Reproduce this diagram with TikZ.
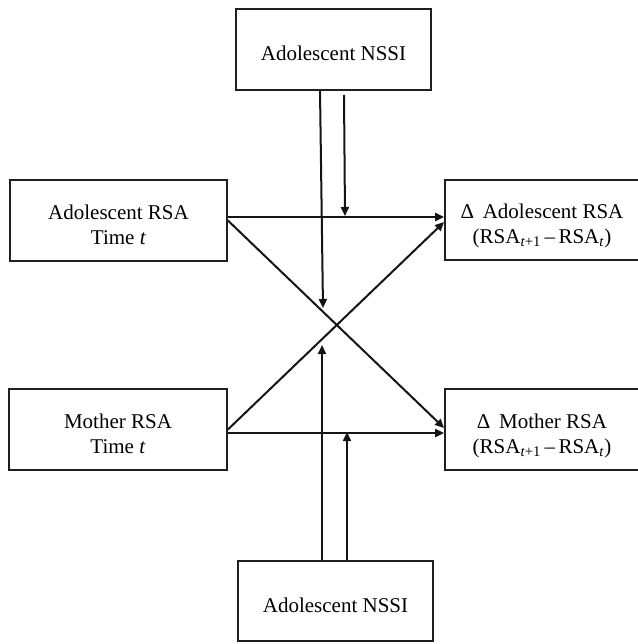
\documentclass[tikz,border=0pt]{standalone}
\usepackage{fontspec}
\setmainfont{Liberation Serif}
\usetikzlibrary{arrows.meta}
\newcommand\boxtext[1]{\raisebox{-6pt}[\height][\depth]{\begin{tabular}{@{}c@{}}#1\end{tabular}}}
\begin{document}
\begin{tikzpicture}[x=1pt,y=-1pt,
  box/.style={draw=black!88,line width=1.8pt,inner sep=0pt,align=center,
    font=\fontsize{21}{25}\selectfont},
  conn/.style={line width=2pt,black!92,-{Triangle[length=9pt,width=8pt]}}]
\useasboundingbox (0,0) rectangle (637,644);
\node[box,minimum width=195pt,minimum height=81pt] (top) at (333.5,49.5) {\boxtext{Adolescent NSSI}};
\node[box,minimum width=195pt,minimum height=80pt] (bot) at (335.5,601) {\boxtext{Adolescent NSSI}};
\node[box,minimum width=217pt,minimum height=81pt] (al) at (118.5,220.5) {\boxtext{Adolescent RSA\\Time \textit{t}}};
\node[box,minimum width=218pt,minimum height=81pt] (ml) at (118,429.5) {\boxtext{Mother RSA\\Time \textit{t}}};
\node[box,minimum width=194pt,minimum height=80pt] (ar) at (542,220) {\boxtext{Δ\, Adolescent RSA\\(RSA\textsubscript{\textit{t}+1}\,–\,RSA\textsubscript{\textit{t}})}};
\node[box,minimum width=194pt,minimum height=81pt] (mr) at (542,429.5) {\boxtext{Δ\, Mother RSA\\(RSA\textsubscript{\textit{t}+1}\,–\,RSA\textsubscript{\textit{t}})}};
% free ends
\coordinate (t1end) at (323,308);
\coordinate (t2start) at (344,95);
\coordinate (t2end) at (345,216);
\coordinate (b1end) at (322,345);
\coordinate (b2end) at (347,432);
% main paths
\draw[conn] ([yshift=3.5pt]al.east) -- ([yshift=3pt]ar.west);
\draw[conn] (al.east) -- ([yshift=1.5pt]mr.west);
\draw[conn] (ml.east) -- ([yshift=-2pt]ar.west);
\draw[conn] ([yshift=-3.5pt]ml.east) -- ([yshift=-3.5pt]mr.west);
% moderators
\draw[conn] ([xshift=-13.5pt]top.south) -- (t1end);
\draw[conn] (t2start) -- (t2end);
\draw[conn] ([xshift=-13.5pt]bot.north) -- (b1end);
\draw[conn] ([xshift=11.5pt]bot.north) -- (b2end);
\end{tikzpicture}
\end{document}
